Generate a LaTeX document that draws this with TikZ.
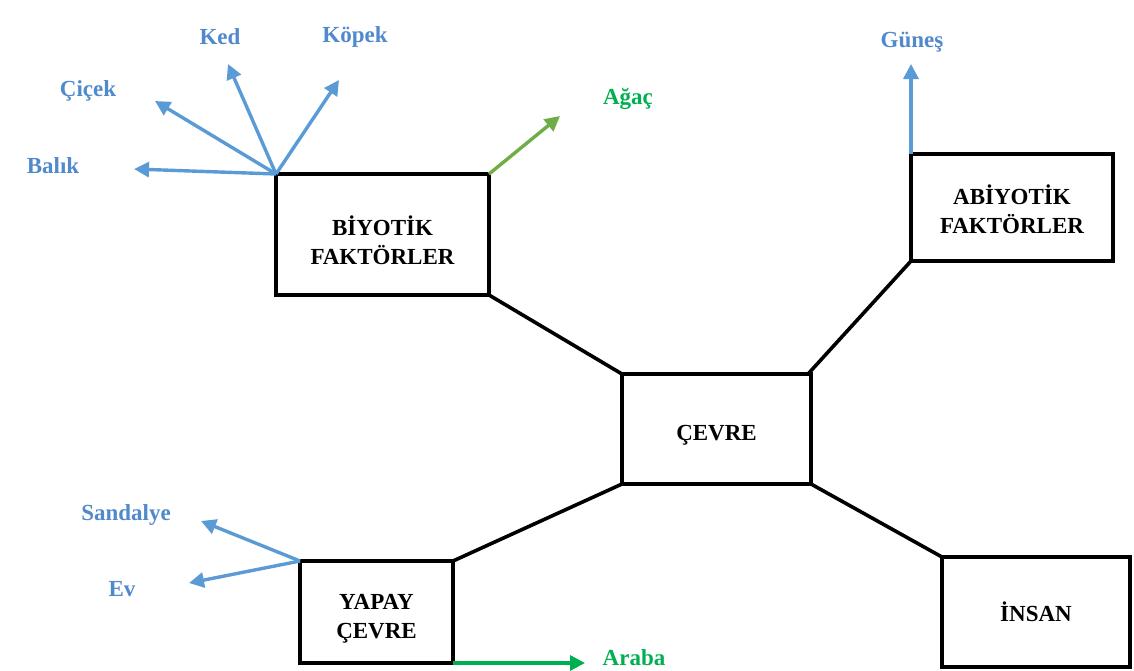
\documentclass[tikz,border=0pt]{standalone}
\usepackage{fontspec}
\setmainfont{Liberation Serif}
\usetikzlibrary{arrows.meta}
\definecolor{lblue}{HTML}{5B9BD5}
\definecolor{tblue}{HTML}{5089CC}
\definecolor{lgreen}{HTML}{70AD47}
\definecolor{dgreen}{HTML}{00B050}
% invisible strut that lowers the text inside a box
\newcommand\boxstrut[1]{\rule{0pt}{#1}}
\begin{document}
\begin{tikzpicture}[x=1pt,y=-1pt,
  box/.style={draw=black,line width=3.6pt,fill=white,align=center,
    font=\fontsize{23}{29}\selectfont\bfseries,inner sep=0pt,outer sep=0pt},
  link/.style={black,line width=3.6pt},
  arr/.style={line width=3.4pt,-{Triangle[length=15pt,width=15pt]}},
  lbl/.style={font=\fontsize{23}{26}\selectfont\bfseries,text=tblue,inner sep=1pt},
  glbl/.style={lbl,text=dgreen}]
\useasboundingbox (0,0) rectangle (1134,670);
% main boxes
\node[box,minimum width=213pt,minimum height=121pt] (bio) at (382.5,234.5) {\boxstrut{32pt}BİYOTİK\\FAKTÖRLER};
\node[box,minimum width=202pt,minimum height=107pt] (abio) at (1012,207.5) {\boxstrut{24pt}ABİYOTİK\\FAKTÖRLER};
\node[box,minimum width=189pt,minimum height=110pt] (cevre) at (716.5,429) {\boxstrut{27pt}ÇEVRE};
\node[box,minimum width=153pt,minimum height=102pt] (yapay) at (376.5,612) {\boxstrut{29pt}YAPAY\\ÇEVRE};
\node[box,minimum width=188pt,minimum height=110pt] (insan) at (1036,612) {İNSAN};
% links between boxes
\draw[link] (bio.south east) -- (cevre.north west);
\draw[link] ([xshift=-3pt]cevre.north east) -- (abio.south west);
\draw[link] (cevre.south west) -- (yapay.north east);
\draw[link] (cevre.south east) -- (insan.north west);
% end points of the outward arrows
\coordinate (bBalik) at (134,169);
\coordinate (bCicek) at (155,101);
\coordinate (bKed) at (228,64);
\coordinate (bKopek) at (339,80);
\coordinate (bAgac) at (560,116);
\coordinate (bGunes) at (911,64);
\coordinate (bSand) at (201,521);
\coordinate (bEv) at (189,583);
\coordinate (bAraba) at (585,663);
\draw[arr,lblue] (bio.north west) -- (bBalik);
\draw[arr,lblue] (bio.north west) -- (bCicek);
\draw[arr,lblue] (bio.north west) -- (bKed);
\draw[arr,lblue] (bio.north west) -- (bKopek);
\draw[arr,lgreen] (bio.north east) -- (bAgac);
\draw[arr,lblue] (abio.north west) -- (abio.north west |- bGunes);
\draw[arr,lblue] (yapay.north west) -- (bSand);
\draw[arr,lblue] (yapay.north west) -- (bEv);
\draw[arr,dgreen] (yapay.south east) -- (yapay.south east -| bAraba);
% labels
\node[lbl] (ked) at (220,37) {Ked};
\node[lbl] (kopek) at (355,37) {Köpek};
\node[lbl] (cicek) at (88,91) {Çiçek};
\node[lbl] (balik) at (53,166) {Balık};
\node[glbl] (agac) at (628,99) {Ağaç};
\node[lbl] (gunes) at (912,42) {Güneş};
\node[lbl] (sand) at (126,515) {Sandalye};
\node[lbl] (ev) at (122,589) {Ev};
\node[glbl] (araba) at (634,658) {Araba};
\end{tikzpicture}
\end{document}
